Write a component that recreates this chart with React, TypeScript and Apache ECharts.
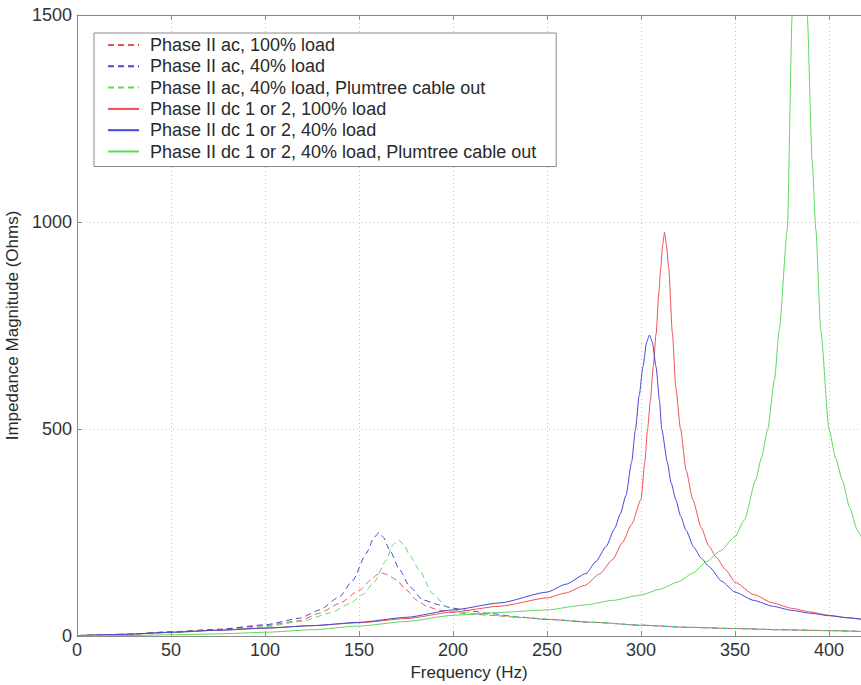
import React, { useEffect, useRef } from "react";
import * as echarts from "echarts";

// ---- data ----
const xTicks = [0, 50, 100, 150, 200, 250, 300, 350, 400];
const yTicks = [0, 500, 1000, 1500];

const legendNames = [
  "Phase II ac, 100% load",
  "Phase II ac, 40% load",
  "Phase II ac, 40% load, Plumtree cable out",
  "Phase II dc 1 or 2, 100% load",
  "Phase II dc 1 or 2, 40% load",
  "Phase II dc 1 or 2, 40% load, Plumtree cable out",
];

const ac100Freq = [0, 25, 50, 75, 100, 118.5, 129, 139.7, 150.4, 156, 159.5, 162, 164.5, 167, 169.9, 175, 180.5, 186, 192, 200, 210, 220, 235, 250, 275, 300, 325, 350, 375, 400, 417];
const ac100Vals = [1, 4, 10, 16, 25, 37, 55, 79, 111, 134, 148, 152, 149, 143, 135, 112, 87, 72, 63, 57, 53, 50, 45, 40, 33, 26, 21, 18, 15, 13, 11];

const ac40Freq = [0, 25, 50, 75, 100, 118.5, 129, 139.7, 146.8, 153.9, 158, 160.6, 163, 166.3, 171.6, 177, 184, 192.9, 200, 210, 220, 235, 250, 275, 300, 325, 350, 375, 400, 417];
const ac40Vals = [1, 4, 10, 16, 27, 43, 63, 95, 135, 200, 238, 250, 238, 208, 160, 119, 87, 75, 67, 60, 54, 46, 40, 33, 26, 21, 18, 15, 13, 11];

const acPlumFreq = [0, 25, 50, 75, 100, 120, 135, 145, 152, 158, 164.5, 168, 171, 174, 177, 182, 189, 196.4, 205, 215, 225, 240, 250, 275, 300, 325, 350, 375, 400, 417];
const acPlumVals = [1, 3, 8, 14, 22, 36, 56, 78, 100, 130, 183, 220, 232, 220, 195, 160, 103, 71, 57, 52, 49, 44, 41, 33, 26, 21, 18, 15, 13, 11];

const dc100Freq = [0, 25, 50, 75, 100, 125, 150, 175, 200, 225, 250, 260, 270, 278, 285, 290, 295, 300, 302, 303.5, 305, 306.5, 308, 309.5, 310.5, 311.5, 312.5, 313.5, 314.7, 316.7, 318.5, 321, 324, 327.5, 332, 336, 340, 345, 350, 360, 370, 380, 390, 400, 410, 417];
const dc100Vals = [1, 4, 9, 14, 19, 25, 32, 42, 58, 72, 92, 104, 122, 150, 185, 225, 270, 330, 420, 500, 570, 650, 730, 830, 890, 945, 975, 945, 890, 730, 600, 500, 400, 330, 262, 218, 190, 160, 130, 100, 80, 67, 58, 50, 44, 40];

const dc40Freq = [0, 25, 50, 75, 100, 125, 150, 175, 200, 225, 250, 260, 270.8, 276, 281.4, 286, 289, 292, 295, 297, 299, 301, 303, 304.5, 306, 308, 309.8, 311, 314, 316, 318.6, 321, 324, 328, 332, 336.3, 343, 350, 360, 370, 380, 390, 400, 410, 417];
const dc40Vals = [1, 4, 9, 14, 19, 25, 33, 45, 63, 80, 106, 125, 151, 180, 216, 260, 295, 340, 420, 497, 580, 650, 710, 727, 710, 650, 570, 500, 420, 370, 328, 290, 255, 215, 188, 167, 132, 106, 86, 72, 62, 55, 49, 44, 41];

const dcPlumFreq = [0, 25, 50, 75, 100, 125, 150, 175, 200, 225, 250, 270, 285, 300, 310, 320, 327.5, 335, 342, 350, 355, 361, 364, 367.3, 371, 373.5, 377.8, 380.4, 382.5, 384.5, 386.5, 388.4, 391, 393, 395.6, 400, 403.5, 407, 411, 415, 417];
const dcPlumVals = [0, 1, 3, 5, 9, 15, 24, 35, 50, 57, 63, 75, 86, 99, 113, 131, 152, 180, 205, 240, 280, 377, 430, 498, 620, 739, 981, 1500, 2100, 2500, 2100, 1500, 1150, 981, 739, 498, 430, 377, 310, 256, 240];

const seriesFreqs = [ac100Freq, ac40Freq, acPlumFreq, dc100Freq, dc40Freq, dcPlumFreq];
const seriesVals = [ac100Vals, ac40Vals, acPlumVals, dc100Vals, dc40Vals, dcPlumVals];
const seriesColors = ["#f05050", "#4646d8", "#5cd85c", "#f05050", "#4646d8", "#5cd85c"];
const seriesDashed = [true, true, true, false, false, false];

const FONT = "'Liberation Sans', Arial, Helvetica, sans-serif";

export default function App() {
  const ref = useRef<HTMLDivElement>(null);

  useEffect(() => {
    if (!ref.current) return;
    const chart = echarts.init(ref.current, undefined, { renderer: "svg" });

    const xMin = xTicks[0];
    const xMax = 417;
    const xStep = xTicks[1] - xTicks[0];
    const yMin = yTicks[0];
    const yMax = yTicks[yTicks.length - 1];
    const yStep = yTicks[1] - yTicks[0];

    const axisColor = "#8a8a8a";
    const gridLine = { show: true, lineStyle: { color: "#c4c4c4", type: [1, 3] as any, width: 1 } };

    const series = legendNames.map((name, i) => ({
      name,
      type: "line",
      xAxisIndex: 0,
      yAxisIndex: 0,
      symbol: "none",
      smooth: 0.2,
      smoothMonotone: "x",
      clip: true,
      data: seriesFreqs[i].map((f, j) => [f, seriesVals[i][j]]),
      lineStyle: {
        color: seriesColors[i],
        width: 1,
        type: seriesDashed[i] ? [6, 4] : "solid",
      },
      itemStyle: { color: seriesColors[i] },
      emphasis: { disabled: true },
    }));

    chart.setOption({
      animation: false,
      backgroundColor: "#ffffff",
      textStyle: { fontFamily: FONT },
      grid: {
        left: 77,
        top: 15,
        right: 0,
        bottom: 49,
        containLabel: false,
        outerBoundsMode: "none",
      },
      legend: {
        orient: "vertical",
        left: 94,
        top: 33,
        padding: [3, 20, 6, 13],
        itemWidth: 31,
        itemHeight: 14,
        itemGap: 3.3,
        backgroundColor: "#ffffff",
        borderColor: "#8a8a8a",
        borderWidth: 1,
        borderRadius: 0,
        selectedMode: false,
        data: legendNames,
        itemStyle: { opacity: 0 },
        textStyle: {
          fontFamily: FONT,
          fontSize: 18,
          color: "#2a2a2a",
          padding: [0, 0, 0, 6],
        },
      },
      xAxis: [
        {
          type: "value",
          position: "bottom",
          min: xMin,
          max: xMax,
          interval: xStep,
          name: "Frequency (Hz)",
          nameLocation: "middle",
          nameGap: 28,
          nameTextStyle: { fontFamily: FONT, fontSize: 17, color: "#2a2a2a" },
          axisLine: { show: true, onZero: false, lineStyle: { color: axisColor } },
          axisTick: { show: true, inside: true, length: 5, lineStyle: { color: axisColor } },
          axisLabel: {
            fontFamily: FONT,
            fontSize: 18,
            color: "#333",
            margin: 5,
            showMaxLabel: false,
            formatter: (v: number) => String(v),
          },
          splitLine: gridLine,
        },
        {
          type: "value",
          position: "top",
          min: xMin,
          max: xMax,
          interval: xStep,
          axisLine: { show: true, onZero: false, lineStyle: { color: axisColor } },
          axisTick: { show: true, inside: true, length: 5, lineStyle: { color: axisColor } },
          axisLabel: { show: false },
          splitLine: { show: false },
        },
      ],
      yAxis: {
        type: "value",
        min: yMin,
        max: yMax,
        interval: yStep,
        name: "Impedance Magnitude (Ohms)",
        nameLocation: "middle",
        nameGap: 50,
        nameRotate: 90,
        nameTextStyle: { fontFamily: FONT, fontSize: 17, color: "#2a2a2a" },
        axisLine: { show: true, lineStyle: { color: axisColor } },
        axisTick: { show: true, inside: true, length: 5, lineStyle: { color: axisColor } },
        axisLabel: {
          fontFamily: FONT,
          fontSize: 18,
          color: "#333",
          margin: 5,
          formatter: (v: number) => String(v),
        },
        splitLine: gridLine,
      },
      series,
    });

    return () => {
      chart.dispose();
    };
  }, []);

  return (
    <div
      ref={ref}
      style={{ position: "absolute", left: 0, top: 0, width: 861, height: 685, background: "#fff" }}
    />
  );
}
